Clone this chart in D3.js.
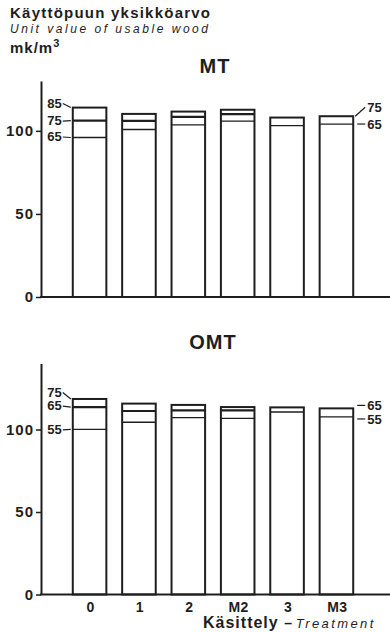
<!DOCTYPE html>
<html>
<head>
<meta charset="utf-8">
<script src="https://cdn.jsdelivr.net/npm/d3@7"></script>
<style>
  html, body { margin: 0; padding: 0; background: #fff; }
  svg { display: block; }
  text { font-family: "Liberation Sans", Arial, sans-serif; fill: #1e1e1e; }
</style>
</head>
<body>
<svg id="chart" width="390" height="632"></svg>
<script>
// Treatments along the x axis
const categories = ["0", "1", "2", "M2", "3", "M3"];

// MT site type: unit value (mk/m3) at each level
const mt85 = [114.0, 110.2, 111.6, 112.7, null, null];
const mt75 = [106.2, 106.0, 108.4, 110.1, 108.0, 108.8];
const mt65 = [96.0, 100.8, 103.6, 105.9, 103.2, 104.1];

// OMT site type
const omt75 = [118.5, 115.7, 114.9, 113.6, null, null];
const omt65 = [113.6, 111.2, 111.6, 111.6, 113.4, 112.8];
const omt55 = [100.1, 104.4, 107.2, 106.8, 110.6, 107.6];

const yTicks = [0, 50, 100];

const ink = "#1e1e1e";
const svg = d3.select("#chart");
svg.append("rect").attr("width", 390).attr("height", 632).attr("fill", "#fff");

const x = d3.scaleBand()
  .domain(categories)
  .range([56, 370])
  .paddingInner(0.32)
  .paddingOuter(0.34);
const bw = x.bandwidth();

// Heading block
svg.append("text").attr("x", 10).attr("y", 18)
  .attr("font-size", 15).attr("font-weight", "bold")
  .attr("textLength", 200).attr("lengthAdjust", "spacing")
  .text("Käyttöpuun yksikköarvo");
svg.append("text").attr("x", 10).attr("y", 33)
  .attr("font-size", 12).attr("font-style", "italic")
  .attr("textLength", 198).attr("lengthAdjust", "spacing")
  .text("Unit value of usable wood");
const unit = svg.append("text").attr("x", 10).attr("y", 53)
  .attr("font-size", 15).attr("font-weight", "bold").attr("letter-spacing", 1);
unit.append("tspan").text("mk/m");
unit.append("tspan").attr("font-size", 11).attr("dy", -6).text("3");

function panel(cfg) {
  const y = d3.scaleLinear().domain([0, cfg.top]).range([cfg.y0, cfg.yTop]);
  const g = svg.append("g");

  g.append("text").attr("x", cfg.titleX).attr("y", cfg.titleY)
    .attr("text-anchor", "middle").attr("font-size", 20).attr("font-weight", "bold")
    .attr("letter-spacing", 1).text(cfg.title);

  const ax = g.append("g").attr("transform", "translate(41,0)")
    .call(d3.axisLeft(y).tickValues(yTicks).tickSize(5).tickSizeOuter(0).tickPadding(2));
  ax.select(".domain").attr("stroke", ink).attr("stroke-width", 2);
  ax.selectAll(".tick line").attr("stroke", ink).attr("stroke-width", 1.5);
  ax.selectAll(".tick text")
    .attr("font-family", "Liberation Sans, Arial, sans-serif")
    .attr("font-size", 15).attr("font-weight", "bold").attr("letter-spacing", 1)
    .attr("fill", ink);

  // bars: outline up to the highest level, inner rules for lower levels
  const series = cfg.series;
  categories.forEach((c, i) => {
    const vals = series.map(s => ({ s, v: s.values[i] })).filter(d => d.v != null);
    const top = vals[0].v;
    const bx = x(c);
    g.append("rect")
      .attr("x", bx).attr("y", y(top))
      .attr("width", bw).attr("height", y(0) - y(top))
      .attr("fill", "#fff").attr("stroke", ink).attr("stroke-width", 2);
    vals.slice(1).forEach(d => {
      g.append("line")
        .attr("x1", bx).attr("x2", bx + bw)
        .attr("y1", y(d.v)).attr("y2", y(d.v))
        .attr("stroke", ink).attr("stroke-width", d.s.w);
    });
  });

  // baseline
  g.append("line").attr("x1", 40).attr("x2", 390)
    .attr("y1", y(0)).attr("y2", y(0))
    .attr("stroke", ink).attr("stroke-width", 2);

  // level labels on the first bar (left side)
  const first = categories[0];
  const lx = x(first);
  cfg.leftLabels.forEach(l => {
    const s = series.find(s => s.key === l.key);
    const vy = y(s.values[0]);
    const ty = vy + l.dy;
    g.append("text").attr("x", lx - 11).attr("y", ty).attr("dy", "0.36em")
      .attr("text-anchor", "end").attr("font-size", 13).attr("font-weight", "bold")
      .text(l.key);
    g.append("line").attr("x1", lx - 10).attr("x2", lx - 2)
      .attr("y1", ty + 0.5).attr("y2", vy)
      .attr("stroke", ink).attr("stroke-width", 1.2);
  });

  // level labels on the last bar (right side)
  const last = categories[categories.length - 1];
  const rx = x(last) + bw;
  cfg.rightLabels.forEach(l => {
    const s = series.find(s => s.key === l.key);
    const vy = y(s.values[categories.length - 1]);
    const ty = vy + l.dy;
    g.append("text").attr("x", rx + 14).attr("y", ty).attr("dy", "0.36em")
      .attr("font-size", 13).attr("font-weight", "bold")
      .text(l.key);
    g.append("line").attr("x1", rx + (l.gap || 2)).attr("x2", rx + 12)
      .attr("y1", l.gap ? ty : vy).attr("y2", ty)
      .attr("stroke", ink).attr("stroke-width", 1.2);
  });

  return y;
}

panel({
  title: "MT", titleX: 215, titleY: 73,
  top: 130, y0: 297, yTop: 81,
  series: [
    { key: "85", values: mt85, w: 2 },
    { key: "75", values: mt75, w: 2.2 },
    { key: "65", values: mt65, w: 1.3 }
  ],
  leftLabels: [{ key: "85", dy: -4.5 }, { key: "75", dy: 0 }, { key: "65", dy: -1 }],
  rightLabels: [{ key: "75", dy: -9 }, { key: "65", dy: 0, gap: 4 }]
});

panel({
  title: "OMT", titleX: 213, titleY: 349,
  top: 140, y0: 594.5, yTop: 363.5,
  series: [
    { key: "75", values: omt75, w: 2 },
    { key: "65", values: omt65, w: 2.2 },
    { key: "55", values: omt55, w: 1.3 }
  ],
  leftLabels: [{ key: "75", dy: -7 }, { key: "65", dy: -1.5 }, { key: "55", dy: 0 }],
  rightLabels: [{ key: "65", dy: -3, gap: 4 }, { key: "55", dy: 2, gap: 4 }]
});

// treatment labels under the lower panel
svg.append("g").selectAll("text").data(categories).join("text")
  .attr("x", d => x(d) + bw / 2 + 1).attr("y", 612)
  .attr("text-anchor", "middle").attr("font-size", 14).attr("font-weight", "bold")
  .attr("letter-spacing", 0.5)
  .text(d => d);

const xt = svg.append("text").attr("x", 203).attr("y", 628);
xt.append("tspan").attr("font-size", 16).attr("font-weight", "bold")
  .attr("letter-spacing", 1).text("Käsittely ");
xt.append("tspan").attr("font-size", 14).attr("font-weight", "bold").text("– ");
xt.append("tspan").attr("font-size", 13).attr("font-style", "italic")
  .attr("letter-spacing", 2.4).text("Treatment");
</script>
</body>
</html>
